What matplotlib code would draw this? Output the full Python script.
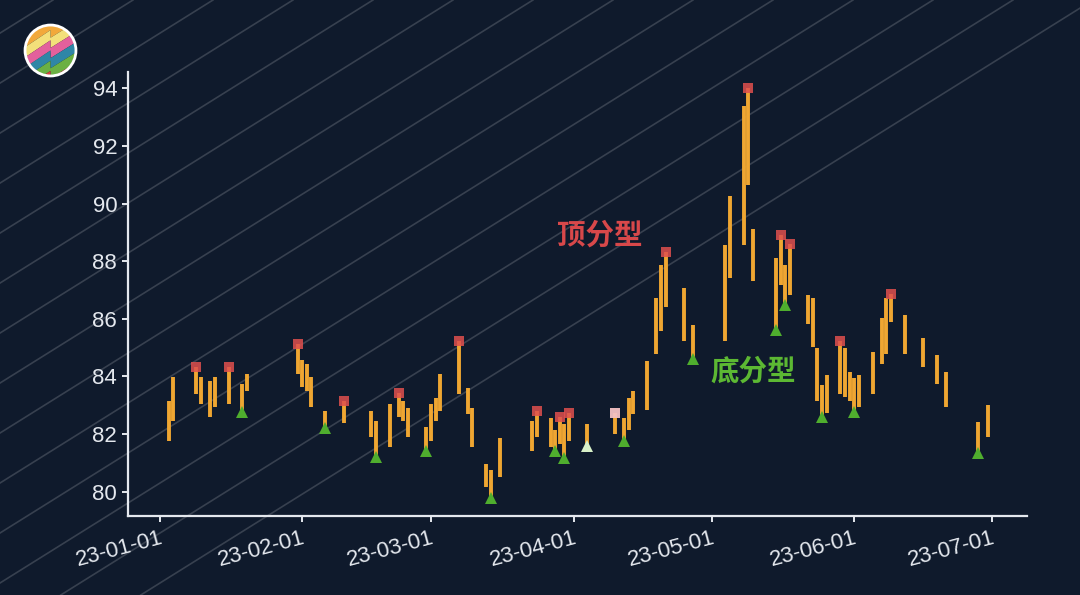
import numpy as np
import pandas as pd
import matplotlib
matplotlib.use("Agg")
import matplotlib.pyplot as plt
import matplotlib.dates as mdates
from matplotlib.lines import Line2D
from matplotlib.patches import Circle, Polygon

plt.rcParams['font.family'] = ['Liberation Sans', 'Noto Sans CJK SC', 'DejaVu Sans']

# trading days shown in the chart
dates = pd.to_datetime([
    "2023-01-03", "2023-01-04", "2023-01-09", "2023-01-10", "2023-01-12", "2023-01-13",
    "2023-01-16", "2023-01-19", "2023-01-20", "2023-01-31", "2023-02-01", "2023-02-02",
    "2023-02-03", "2023-02-06", "2023-02-10", "2023-02-16", "2023-02-17", "2023-02-20",
    "2023-02-22", "2023-02-23", "2023-02-24", "2023-02-28", "2023-03-01", "2023-03-02",
    "2023-03-03", "2023-03-07", "2023-03-09", "2023-03-10", "2023-03-13", "2023-03-14",
    "2023-03-16", "2023-03-23", "2023-03-24", "2023-03-27", "2023-03-28", "2023-03-29",
    "2023-03-30", "2023-03-31", "2023-04-04", "2023-04-10", "2023-04-12", "2023-04-13",
    "2023-04-14", "2023-04-17", "2023-04-19", "2023-04-20", "2023-04-21", "2023-04-25",
    "2023-04-27", "2023-05-04", "2023-05-05", "2023-05-08", "2023-05-09", "2023-05-10",
    "2023-05-15", "2023-05-16", "2023-05-17", "2023-05-18", "2023-05-22", "2023-05-23",
    "2023-05-24", "2023-05-25", "2023-05-26", "2023-05-29", "2023-05-30", "2023-05-31",
    "2023-06-01", "2023-06-02", "2023-06-05", "2023-06-07", "2023-06-08", "2023-06-09",
    "2023-06-12", "2023-06-16", "2023-06-19", "2023-06-21", "2023-06-28", "2023-06-30",
])
low = [
    81.77, 82.46, 83.39, 83.04, 82.58, 82.93, 83.04, 82.75, 83.50, 84.08, 83.62, 83.50,
    82.93, 82.20, 82.39, 81.89, 81.21, 81.54, 82.58, 82.46, 81.89, 81.39, 81.77, 82.46,
    82.81, 83.39, 82.70, 81.54, 80.15, 79.77, 80.50, 81.42, 81.89, 81.54, 81.39, 81.65,
    81.16, 81.77, 81.58, 82.00, 81.77, 82.12, 82.69, 82.82, 84.78, 85.59, 86.40, 85.24,
    84.59, 85.24, 87.43, 88.56, 90.64, 87.30, 85.61, 87.17, 86.48, 86.83, 85.82, 85.01,
    83.16, 82.58, 82.72, 83.39, 83.27, 83.16, 82.77, 82.93, 83.39, 84.43, 84.78, 85.90,
    84.78, 84.32, 83.74, 82.93, 81.33, 81.89,
]
high = [
    83.16, 83.97, 84.34, 83.97, 83.84, 83.97, 84.34, 83.73, 84.08, 85.12, 84.55, 84.42,
    83.97, 82.81, 83.16, 82.81, 82.46, 83.03, 83.41, 83.16, 82.91, 82.23, 83.03, 83.26,
    84.07, 85.24, 83.61, 82.91, 80.96, 80.73, 81.87, 82.46, 82.81, 82.57, 82.12, 82.60,
    82.35, 82.72, 82.35, 82.72, 82.57, 83.26, 83.49, 84.52, 86.71, 87.87, 88.33, 87.06,
    85.78, 88.56, 90.27, 93.40, 94.00, 89.12, 88.10, 88.91, 87.87, 88.60, 86.83, 86.71,
    84.98, 83.70, 84.05, 85.24, 84.98, 84.16, 83.93, 84.05, 84.86, 86.02, 86.71, 86.86,
    86.13, 85.32, 84.74, 84.16, 82.43, 83.01,
]
# T = top fractal, B = bottom fractal, t / b = unconfirmed
fractal = [
    "", "", "T", "", "", "", "T", "B", "", "T", "", "",
    "", "B", "T", "", "B", "", "T", "", "", "B", "", "",
    "", "T", "", "", "", "B", "", "", "T", "", "B", "T",
    "B", "T", "b", "t", "B", "", "", "", "", "", "T", "",
    "B", "", "", "", "T", "", "B", "T", "B", "T", "", "",
    "", "B", "", "T", "", "", "B", "", "", "", "", "T",
    "", "", "", "", "B", "",
]
label_top = "顶分型"
label_bottom = "底分型"

bg = "#0f1a2c"
bar_color = "#efa632"
fg = "#e4e8ee"

fig = plt.figure(figsize=(10.8, 5.95), dpi=100)
fig.patch.set_facecolor(bg)

# diagonal background stripes (pixel geometry, converted to figure fraction)
W, H = 1080, 595
slope = 1 / np.tan(np.radians(32))
for xt in np.arange(53 - 80 * 12, W + 80, 80):
    xb = xt - H * slope
    fig.add_artist(Line2D([xb / W, xt / W], [0, 1], transform=fig.transFigure,
                          color="white", alpha=0.17, lw=1.2, zorder=-5))

ax = fig.add_axes([0.1188, 0.1328, 0.951 - 0.1188, 0.8795 - 0.1328])
ax.set_facecolor("none")

ax.vlines(dates, low, high, color=bar_color, lw=2.8, zorder=2)

fr = np.array(fractal)
low_a = np.array(low)
high_a = np.array(high)
m = fr == "T"
ax.plot(dates[m], high_a[m], "s", color="#e0504e", alpha=0.85, ms=6.5, mew=0, zorder=3)
m = fr == "t"
ax.plot(dates[m], high_a[m], "s", color="#f4c2c4", alpha=0.95, ms=6.5, mew=0, zorder=3)
m = fr == "B"
ax.plot(dates[m], low_a[m], "^", color="#4fae2e", ms=8.5, mew=0, zorder=3)
m = fr == "b"
ax.plot(dates[m], low_a[m], "^", color="#d8f0c8", ms=8.5, mew=0, zorder=3)

ax.text(pd.Timestamp("2023-04-06 18:00"), 88.87, label_top, color="#d8484a",
        fontsize=20.5, fontweight="bold", ha="center", va="center",
        family=["Noto Sans CJK SC"])
ax.text(pd.Timestamp("2023-05-10"), 84.15, label_bottom, color="#5cb833",
        fontsize=20.5, fontweight="bold", ha="center", va="center",
        family=["Noto Sans CJK SC"])

ax.set_xlim(pd.Timestamp("2022-12-25 05:00"), pd.Timestamp("2023-07-08 14:00"))
ax.set_ylim(79.15, 94.58)
ax.set_yticks(np.arange(80, 95, 2))
ax.xaxis.set_major_locator(mdates.MonthLocator())
ax.xaxis.set_major_formatter(mdates.DateFormatter("%y-%m-%d"))
plt.setp(ax.get_xticklabels(), rotation=15, ha="right", rotation_mode="anchor")

for s in ["top", "right"]:
    ax.spines[s].set_visible(False)
for s in ["left", "bottom"]:
    ax.spines[s].set_color(fg)
    ax.spines[s].set_linewidth(1.6)
ax.tick_params(colors=fg, labelsize=16, length=4, width=1.4, pad=4)

# logo
lax = fig.add_axes([23 / W, 1 - 78 / H, 55 / W, 55 / H])
lax.set_xlim(-1.08, 1.08)
lax.set_ylim(-1.08, 1.08)
lax.set_aspect("equal")
lax.axis("off")
circ = Circle((0, 0), 1.0, transform=lax.transData)
band_colors = ["#f2a93b", "#f3e07a", "#e3609c", "#2f86a6", "#6bb043", "#d9443f"]
zx = [-1.2, 0.0, 0.0, 1.2]
zy = [-0.5, 0.3, 0.0, 0.75]
edges = [3.0] + [0.5 - 0.4 * k for k in range(5)] + [-3.0]
for i, c in enumerate(band_colors):
    top, bot = edges[i], edges[i + 1]
    pts = [(x, y + top) for x, y in zip(zx, zy)] + \
          [(x, y + bot) for x, y in zip(zx[::-1], zy[::-1])]
    p = Polygon(pts, closed=True, color=c, lw=0)
    lax.add_patch(p)
    p.set_clip_path(circ)
lax.add_patch(Circle((0, 0), 1.0, fill=False, ec="white", lw=2))

fig.savefig("out.png", dpi=100, facecolor=bg)
